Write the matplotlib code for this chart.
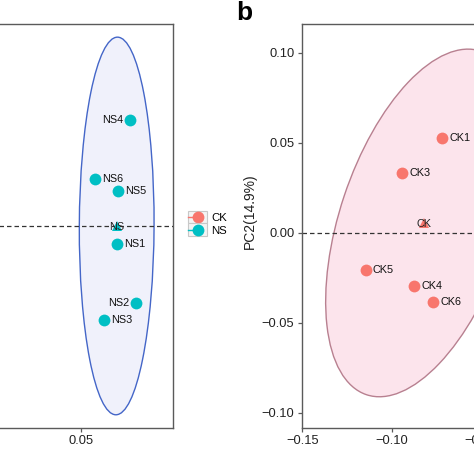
import numpy as np
import matplotlib
matplotlib.use('Agg')
import matplotlib.pyplot as plt
from matplotlib.patches import Ellipse, Rectangle
from matplotlib.lines import Line2D
from matplotlib.legend_handler import HandlerBase
from matplotlib.ticker import MultipleLocator

plt.rcParams['font.family'] = ['Liberation Sans', 'DejaVu Sans']

# ---------------- data ----------------
ns_labels = ['NS1', 'NS2', 'NS3', 'NS4', 'NS5', 'NS6']
ns_pc1 = [0.0685, 0.0780, 0.0618, 0.0750, 0.0688, 0.0572]
ns_pc2 = [-0.0088, -0.0381, -0.0464, 0.0525, 0.0175, 0.0234]
ns_side = ['r', 'l', 'r', 'l', 'r', 'r']

ck_labels = ['CK1', 'CK2', 'CK3', 'CK4', 'CK5', 'CK6']
ck_pc1 = [-0.0716, -0.048, -0.094, -0.0873, -0.1144, -0.0767]
ck_pc2 = [0.0524, 0.036, 0.0332, -0.0296, -0.0209, -0.0387]
ck_side = ['r', 'r', 'r', 'r', 'r', 'r']

groups = ['CK', 'NS']
group_colors = {'CK': '#F8766D', 'NS': '#00BFC4'}
ell_face = {'CK': '#FCE4EC', 'NS': '#F0F1FB'}
ell_edge = {'CK': '#B88090', 'NS': '#4466C8'}

ylabel_b = 'PC2(14.9%)'
CHI2_95_2DF = 5.991

W = H = 474
DPI = 100
fig = plt.figure(figsize=(W / DPI, H / DPI), dpi=DPI)


def px(v):
    return v / W


def fmt(v, p):
    return f'{v:.2f}'.replace('-', '\u2212')


def style_axes(ax):
    for s in ax.spines.values():
        s.set_color('#5a5a5a')
        s.set_linewidth(1.0)
    ax.tick_params(length=3, width=0.9, color='#5a5a5a', labelsize=9.3,
                   labelcolor='#222222', pad=2.2)
    ax.xaxis.set_major_locator(MultipleLocator(0.05))
    ax.yaxis.set_major_locator(MultipleLocator(0.05))
    ax.xaxis.set_major_formatter(fmt)
    ax.yaxis.set_major_formatter(fmt)


def draw_group(ax, g, xs, ys, labels, sides):
    xs = np.asarray(xs)
    ys = np.asarray(ys)
    cov = np.cov(xs, ys)
    vals, vecs = np.linalg.eigh(cov)
    i = np.argmax(vals)
    angle = np.degrees(np.arctan2(vecs[1, i], vecs[0, i]))
    width = 2 * np.sqrt(CHI2_95_2DF * vals[i])
    height = 2 * np.sqrt(CHI2_95_2DF * vals[1 - i])
    e = Ellipse((xs.mean(), ys.mean()), width, height, angle=angle,
                facecolor=ell_face[g], edgecolor=ell_edge[g], lw=1.0, zorder=1)
    ax.add_patch(e)
    ax.axhline(0, color='#333333', lw=0.9, ls=(0, (3.6, 2.4)), zorder=2)
    ax.axvline(0, color='#333333', lw=0.9, ls=(0, (3.6, 2.4)), zorder=2)
    ax.plot(xs, ys, 'o', color=group_colors[g], markersize=8.5, zorder=4,
            markeredgewidth=0)
    for x, y, lab, s in zip(xs, ys, labels, sides):
        off = 5 if s == 'r' else -5
        ax.annotate(lab, (x, y), xytext=(off, 0), textcoords='offset points',
                    ha='left' if s == 'r' else 'right', va='center',
                    fontsize=7.8, color='#111111', zorder=5)
    cx, cy = xs.mean(), ys.mean()
    ax.plot([cx], [cy], '^', color=group_colors[g], markersize=7, zorder=3,
            markeredgewidth=0)
    ax.annotate(g, (cx, cy), xytext=(0, -1), textcoords='offset points',
                ha='center', va='center', fontsize=7.8, color='#222222',
                zorder=5)


# ---------------- panel a (partly visible) ----------------
ax_a = fig.add_axes([px(-230), px(46), px(403), px(404)])
ax_a.set_xlim(-0.109, 0.097)
ax_a.set_ylim(-0.1, 0.1)
style_axes(ax_a)
ax_a.xaxis.set_major_formatter(lambda v, p: fmt(v, p) if v > 0.02 else '')
ax_a.yaxis.set_major_formatter(lambda v, p: '')
draw_group(ax_a, 'NS', ns_pc1, ns_pc2, ns_labels, ns_side)

# ---------------- panel b ----------------
ax_b = fig.add_axes([px(301.7), px(46), px(404), px(404)])
ax_b.set_xlim(-0.1503, -0.1503 + 404 / 1786)
ax_b.set_ylim(-0.1085, 0.1159)
style_axes(ax_b)
draw_group(ax_b, 'CK', ck_pc1, ck_pc2, ck_labels, ck_side)
ax_b.set_ylabel(ylabel_b, fontsize=10, color='#222222')
ax_b.yaxis.label.set_va('center')
ax_b.yaxis.set_label_coords(-0.128, 0.536)

fig.text(px(236), 1 - 20 / H, 'b', fontsize=19, fontweight='bold',
         va='baseline', ha='left')


# ---------------- legend ----------------
class KeyHandler(HandlerBase):
    def create_artists(self, legend, orig_handle, xdescent, ydescent,
                       width, height, fontsize, trans):
        x0, y0 = -xdescent, -ydescent
        rect = Rectangle((x0, y0), width, height, facecolor='#F4F4F4',
                         edgecolor='#C8C8C8', lw=0.8, transform=trans)
        cy = y0 + height / 2
        col = orig_handle.get_color()
        line = Line2D([x0, x0 + width / 2], [cy, cy], color=col, lw=1.0,
                      transform=trans)
        mk = Line2D([x0 + width / 2], [cy], marker='o', markersize=8.5,
                    color=col, linestyle='none', markeredgewidth=0,
                    transform=trans)
        return [rect, line, mk]


handles = [Line2D([], [], color=group_colors[g]) for g in groups]
fs = 8.2
fspx = fs * DPI / 72
fig.legend(handles, groups, loc='upper left',
           bbox_to_anchor=(px(188), 1 - 210.5 / H), frameon=False,
           borderpad=0, borderaxespad=0, labelspacing=0,
           handlelength=19 / fspx, handleheight=15.5 / fspx,
           handletextpad=0.35, fontsize=fs,
           handler_map={Line2D: KeyHandler()})

fig.savefig('out.png', dpi=DPI)
